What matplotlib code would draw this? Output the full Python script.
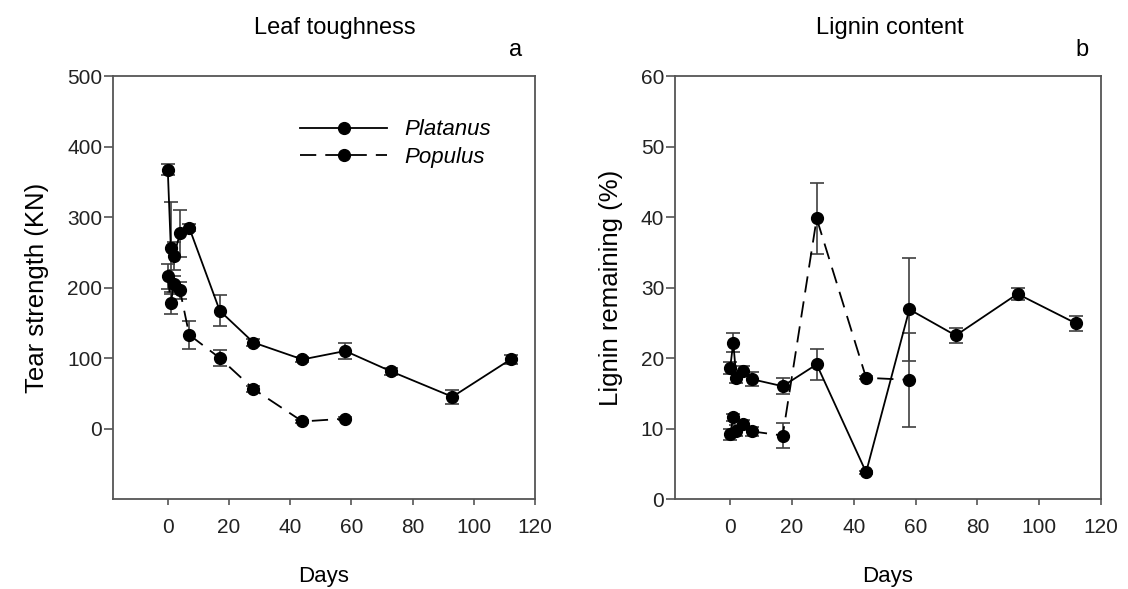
import matplotlib
matplotlib.use("Agg")
import matplotlib.pyplot as plt
from matplotlib.lines import Line2D

plt.rcParams['font.family'] = ['Liberation Sans', 'DejaVu Sans']

# Leaf toughness (tear strength, KN)
days_plat_a = [0, 1, 2, 4, 7, 17, 28, 44, 58, 73, 93, 112]
tough_plat = [367, 256, 245, 277, 285, 167, 122, 98, 110, 81, 45, 98]
tough_plat_err = [8, 65, 20, 33, 5, 22, 5, 3, 12, 5, 10, 6]

days_pop_a = [0, 1, 2, 4, 7, 17, 28, 44, 58]
tough_pop = [216, 178, 205, 196, 133, 100, 56, 10, 14]
tough_pop_err = [18, 15, 12, 12, 20, 12, 4, 2, 2]

# Lignin remaining (%)
days_plat_b = [0, 1, 2, 4, 7, 17, 28, 44, 58, 73, 93, 112]
lig_plat = [18.6, 22.2, 17.2, 18.2, 17.0, 16.0, 19.1, 3.8, 26.9, 23.2, 29.1, 24.9]
lig_plat_err = [0.8, 1.3, 0.8, 0.6, 1.0, 1.1, 2.2, 0.2, 7.3, 1.0, 0.9, 1.0]

days_pop_b = [0, 1, 2, 4, 7, 17, 28, 44, 58]
lig_pop = [9.2, 11.6, 9.7, 10.6, 9.6, 9.0, 39.8, 17.2, 16.9]
lig_pop_err = [0.8, 0.5, 0.8, 0.6, 0.6, 1.8, 5.0, 0.2, 6.7]

x_ticks = [0, 20, 40, 60, 80, 100, 120]

fig = plt.figure(figsize=(11.28, 5.89), dpi=100)
ax_a = fig.add_axes([0.0999, 0.1528, 0.3744, 0.718])
ax_b = fig.add_axes([0.598, 0.1528, 0.378, 0.718])

spine_col = '#555555'
err_col = '#404040'
dash = (0, (9, 5))


def draw(ax, x, y, err, ls):
    ax.errorbar(x, y, yerr=err, fmt='none', ecolor=err_col, elinewidth=1.2,
                capsize=5, capthick=1.2, zorder=2)
    ax.plot(x, y, color='black', lw=1.3, linestyle=ls, marker='o',
            markersize=8.5, markerfacecolor='black', markeredgecolor='black',
            zorder=3)


def style(ax, ylim, yticks, ylabel, title, letter, title_x):
    ax.set_xlim(-18, 120)
    ax.set_ylim(*ylim)
    ax.set_xticks(x_ticks)
    ax.set_yticks(yticks)
    for s in ax.spines.values():
        s.set_color(spine_col)
        s.set_linewidth(1.3)
    ax.tick_params(axis='x', direction='out', length=4.5, width=1.2,
                   color=spine_col, labelsize=15, labelcolor='#222222', pad=9)
    ax.tick_params(axis='y', direction='out', length=6.5, width=1.2,
                   color=spine_col, labelsize=15, labelcolor='#222222', pad=1)
    ax.set_xlabel('Days', fontsize=16, labelpad=21)
    ax.set_ylabel(ylabel, fontsize=18.5, labelpad=13)
    ax.set_title(title, fontsize=17, pad=30, x=title_x)
    ax.text(0.955, 1.035, letter, transform=ax.transAxes, fontsize=17,
            ha='center', va='bottom')


draw(ax_a, days_plat_a, tough_plat, tough_plat_err, '-')
draw(ax_a, days_pop_a, tough_pop, tough_pop_err, dash)
style(ax_a, (-100, 500), [0, 100, 200, 300, 400, 500],
      'Tear strength (KN)', 'Leaf toughness', 'a', 0.525)

draw(ax_b, days_plat_b, lig_plat, lig_plat_err, '-')
draw(ax_b, days_pop_b, lig_pop, lig_pop_err, dash)
style(ax_b, (0, 60), [0, 10, 20, 30, 40, 50, 60],
      'Lignin remaining (%)', 'Lignin content', 'b', 0.505)

handles = [
    Line2D([], [], color='black', lw=1.3, linestyle='-', marker='o',
           markersize=8.5),
    Line2D([], [], color='black', lw=1.3, linestyle=dash, marker='o',
           markersize=8.5),
]
leg = ax_a.legend(handles, ['Platanus', 'Populus'], loc='upper left',
                  bbox_to_anchor=(0.397, 0.945), frameon=False,
                  handlelength=3.9, fontsize=16, labelspacing=0.3,
                  handletextpad=0.8)
for t in leg.get_texts():
    t.set_fontstyle('italic')

fig.savefig('out.png', dpi=100)
